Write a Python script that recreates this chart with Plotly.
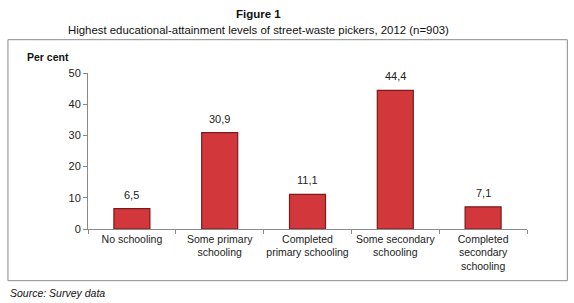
import plotly.graph_objects as go

categories = ["No schooling", "Some primary<br>schooling", "Completed<br>primary schooling",
              "Some secondary<br>schooling", "Completed<br>secondary<br>schooling"]
values = [6.5, 30.9, 11.1, 44.4, 7.1]
y_ticks = [0, 10, 20, 30, 40, 50]

W, H = 574, 303
L, R = 88, 526.7
T, B = 73.3, 229.3
pw, ph = R - L, B - T

def px(x):
    return (x - L) / pw

def py(y):
    return (B - y) / ph

fig = go.Figure(go.Bar(
    x=categories, y=values,
    marker=dict(color="#d2383b", line=dict(color="#7a1a1a", width=1.2)),
    width=0.41,
    hoverinfo="skip",
))

annotations = []
for c, v in zip(categories, values):
    annotations.append(dict(x=c, y=v, xref="x", yref="y", text=f"{v:.1f}".replace(".", ","),
                            showarrow=False, yshift=14, yanchor="middle",
                            font=dict(size=11, color="#222")))

annotations += [
    dict(x=px(258), y=py(14), xref="paper", yref="paper", text="<b>Figure 1</b>",
         showarrow=False, xanchor="center", yanchor="middle", font=dict(size=11.5, color="#111")),
    dict(x=px(258), y=py(30), xref="paper", yref="paper",
         text="Highest educational-attainment levels of street-waste pickers, 2012 (n=903)",
         showarrow=False, xanchor="center", yanchor="middle", font=dict(size=11.4, color="#111")),
    dict(x=px(25), y=py(57), xref="paper", yref="paper", text="<b>Per cent</b>",
         showarrow=False, xanchor="left", yanchor="middle", font=dict(size=10.5, color="#111")),
    dict(x=px(8), y=py(293), xref="paper", yref="paper", text="<i>Source: Survey data</i>",
         showarrow=False, xanchor="left", yanchor="middle", font=dict(size=10.5, color="#111")),
]

fig.update_layout(
    width=W, height=H,
    margin=dict(l=L, r=W - R, t=T, b=H - B, pad=0, autoexpand=False),
    paper_bgcolor="white", plot_bgcolor="white",
    font=dict(family="Liberation Sans, Arial, sans-serif", size=11, color="#222"),
    showlegend=False,
    annotations=annotations,
    shapes=[dict(type="rect", xref="paper", yref="paper",
                 x0=px(8), x1=px(567), y0=py(281), y1=py(40),
                 line=dict(color="#8a8a8a", width=1), fillcolor="rgba(0,0,0,0)", layer="below")],
    xaxis=dict(showline=True, linecolor="#8a8a8a", linewidth=1, ticks="outside",
               ticklen=4, tickcolor="#8a8a8a", tickson="boundaries", showgrid=False,
               tickangle=0, automargin=False, tickfont=dict(size=10.5, color="#222")),
    yaxis=dict(range=[0, 50], tickvals=y_ticks, showline=True, linecolor="#8a8a8a",
               linewidth=1, ticks="outside", ticklen=4, tickcolor="#8a8a8a", automargin=False,
               showgrid=False, zeroline=False, tickfont=dict(size=11, color="#222")),
)

fig.write_html("out.html", config={"displayModeBar": False},
               post_script="document.body.style.margin='0';document.body.style.overflow='hidden';")
